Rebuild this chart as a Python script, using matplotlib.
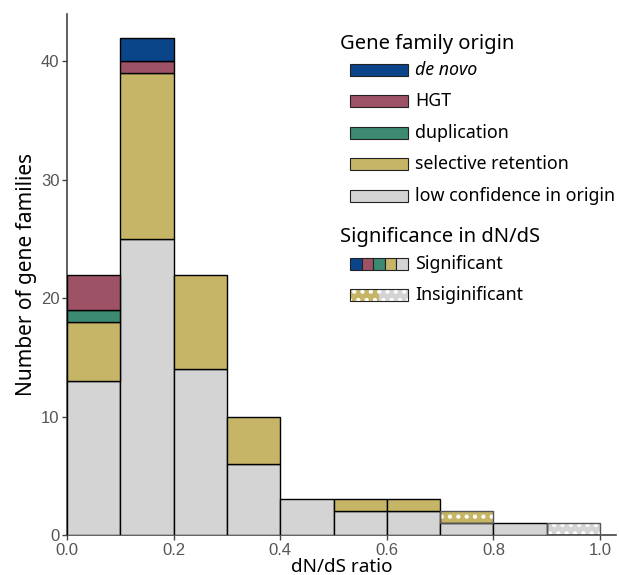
import numpy as np
import matplotlib
matplotlib.use("Agg")
import matplotlib.pyplot as plt
from matplotlib.patches import Rectangle

# bins of dN/dS ratio (left edges), width 0.1
bin_left = [0.0, 0.1, 0.2, 0.3, 0.4, 0.5, 0.6, 0.7, 0.8, 0.9]

origins = ["de novo", "HGT", "duplication", "selective retention",
           "low confidence in origin"]
colors = ["#0a458a", "#9d5365", "#3c8a71", "#c6b567", "#d4d4d4"]

# counts per bin, stacked from bottom: low conf, selective, duplication, HGT, de novo
low_conf    = [13, 25, 14, 6, 3, 2, 2, 1, 1, 1]
selective   = [5, 14, 8, 4, 0, 1, 1, 1, 0, 0]
duplication = [1, 0, 0, 0, 0, 0, 0, 0, 0, 0]
hgt         = [3, 1, 0, 0, 0, 0, 0, 0, 0, 0]
de_novo     = [0, 2, 0, 0, 0, 0, 0, 0, 0, 0]

# which bins are not significant (per layer)
insig_low_conf = [False] * 9 + [True]
insig_selective = [False] * 7 + [True, False, False]

plt.rcParams["hatch.linewidth"] = 1.8

fig = plt.figure(figsize=(6.19, 5.75), dpi=100)
ax = fig.add_axes([67 / 619, 40 / 575, (616 - 67) / 619, (535 - 14) / 575])

layers = [
    (low_conf, colors[4], insig_low_conf),
    (selective, colors[3], insig_selective),
    (duplication, colors[2], [False] * 10),
    (hgt, colors[1], [False] * 10),
    (de_novo, colors[0], [False] * 10),
]

bottom = np.zeros(len(bin_left))
for vals, col, insig in layers:
    vals = np.array(vals, dtype=float)
    for i, x in enumerate(bin_left):
        if vals[i] == 0:
            continue
        if insig[i]:
            ax.bar(x, vals[i], width=0.1, bottom=bottom[i], align="edge",
                   color=col, edgecolor="white", linewidth=0, hatch="..",
                   zorder=2)
            ax.bar(x, vals[i], width=0.1, bottom=bottom[i], align="edge",
                   fill=False, edgecolor="#555555", linewidth=1.0, zorder=3)
        else:
            ax.bar(x, vals[i], width=0.1, bottom=bottom[i], align="edge",
                   color=col, edgecolor="black", linewidth=1.0, zorder=3)
    bottom += vals

ax.set_xlim(0, 1.03)
ax.set_ylim(0, 44)
ax.set_xticks([0.0, 0.2, 0.4, 0.6, 0.8, 1.0])
ax.set_xticklabels(["0.0", "0.2", "0.4", "0.6", "0.8", "1.0"])
ax.set_yticks([0, 10, 20, 30, 40])

for s in ["top", "right"]:
    ax.spines[s].set_visible(False)
for s in ["left", "bottom"]:
    ax.spines[s].set_color("#444444")
    ax.spines[s].set_linewidth(1.2)
ax.tick_params(colors="#444444", length=3.5, width=1.0, labelsize=12,
               labelcolor="#555555", pad=2)
for lab in ax.get_xticklabels() + ax.get_yticklabels():
    lab.set_family("Liberation Sans")

lfont = "Noto Sans"
ax.set_xlabel("dN/dS ratio", fontsize=13.6, family=lfont, labelpad=0)
ax.set_ylabel("Number of gene families", fontsize=15, family=lfont,
              labelpad=3)


# legend drawn by hand, in pixel coords (from top-left)
def fx(px):
    return px / 619


def fy(py):
    return 1 - py / 575


fig.text(fx(340), fy(44), "Gene family origin", fontsize=14.5, family=lfont,
         va="center", ha="left")
row_y = [70, 101, 133, 164, 196]
for k in range(5):
    fig.add_artist(Rectangle((fx(350), fy(row_y[k] + 6)), 58 / 619, 12 / 575,
                             transform=fig.transFigure, facecolor=colors[k],
                             edgecolor="#222222", linewidth=0.8))
    fig.text(fx(415), fy(row_y[k]), origins[k], fontsize=12.8, family=lfont,
             va="center", ha="left", style="italic" if k == 0 else "normal")

fig.text(fx(340), fy(237), "Significance in dN/dS", fontsize=14.5,
         family=lfont, va="center", ha="left")

# significant key: five small colour blocks
for k in range(5):
    fig.add_artist(Rectangle((fx(350 + k * 11.6), fy(270)), 11.6 / 619,
                             12 / 575, transform=fig.transFigure,
                             facecolor=colors[k], edgecolor="#222222",
                             linewidth=0.8))
fig.text(fx(415), fy(264), "Significant", fontsize=12.8, family=lfont,
         va="center", ha="left")

# insignificant key: gold and gray dotted halves
for k, col in enumerate([colors[3], colors[4]]):
    fig.add_artist(Rectangle((fx(350 + k * 29), fy(301)), 29 / 619, 12 / 575,
                             transform=fig.transFigure, facecolor=col,
                             edgecolor="white", linewidth=0, hatch=".."))
fig.add_artist(Rectangle((fx(350), fy(301)), 58 / 619, 12 / 575,
                         transform=fig.transFigure, fill=False,
                         edgecolor="#222222", linewidth=0.8))
fig.text(fx(415), fy(295), "Insiginificant", fontsize=12.8, family=lfont,
         va="center", ha="left")

fig.savefig("out.png", dpi=100)
